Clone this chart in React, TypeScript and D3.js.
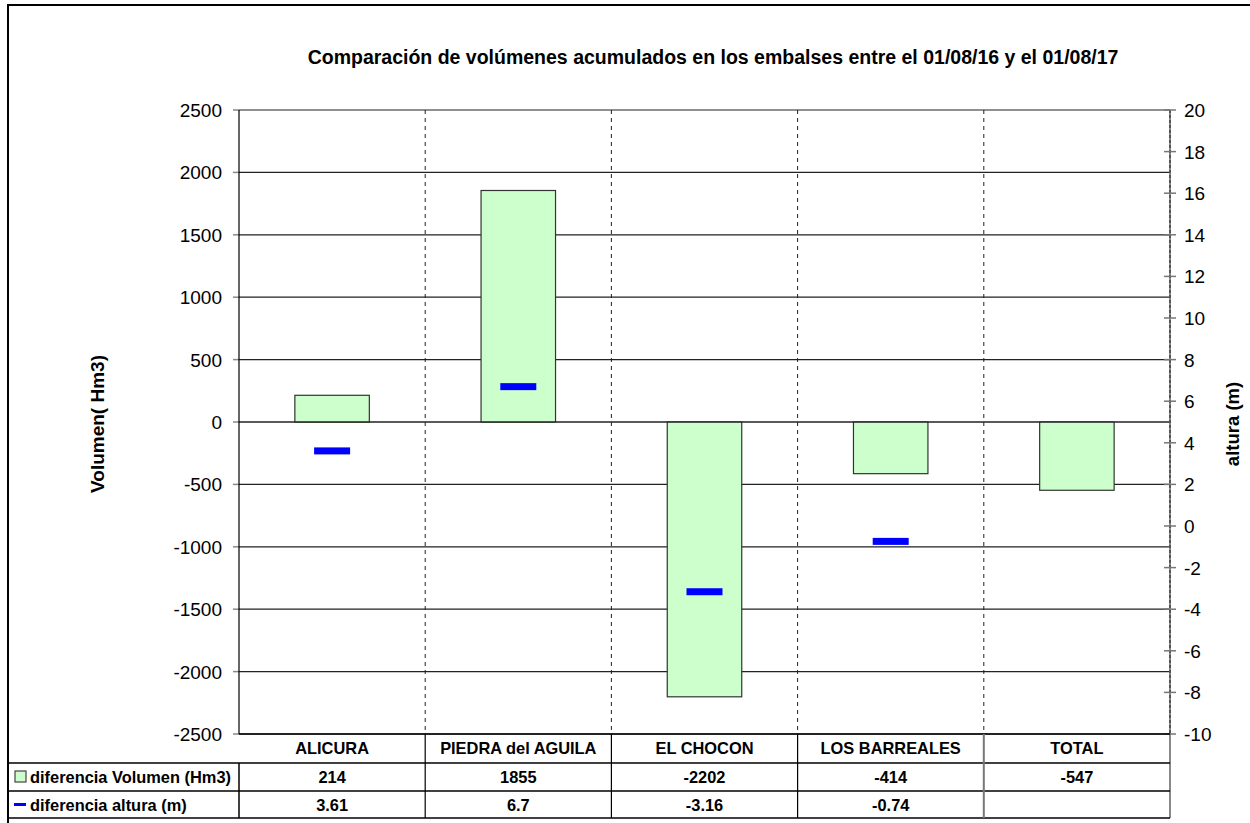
import React from "react";
import * as d3 from "d3";

const categories = ["ALICURA", "PIEDRA del AGUILA", "EL CHOCON", "LOS BARREALES", "TOTAL"];
const volumen = [214, 1855, -2202, -414, -547];
const altura: (number | null)[] = [3.61, 6.7, -3.16, -0.74, null];
const volumenTicks = [2500, 2000, 1500, 1000, 500, 0, -500, -1000, -1500, -2000, -2500];
const alturaTicks = [20, 18, 16, 14, 12, 10, 8, 6, 4, 2, 0, -2, -4, -6, -8, -10];
const volumenLabel = "diferencia Volumen (Hm3)";
const alturaLabel = "diferencia altura (m)";
const title = "Comparación de volúmenes acumulados en los embalses entre el 01/08/16 y el 01/08/17";

const W = 1250;
const H = 823;
const left = 239;
const right = 1170;
const top = 110;
const bottom = 734;
const rowHeader = 763;
const row1 = 791;
const row2 = 818;

export default function App() {
  const x = d3.scaleBand<string>().domain(categories).range([left, right]).paddingInner(0).paddingOuter(0);
  const yL = d3.scaleLinear().domain([-2500, 2500]).range([bottom, top]);
  const yR = d3.scaleLinear().domain([-10, 20]).range([bottom, top]);
  const bw = x.bandwidth();
  const barW = bw * 0.4;
  const markW = 36;
  const font = "Arial, 'Liberation Sans', Helvetica, sans-serif";
  const dividers = categories.slice(1).map((c) => x(c)!);
  const tickFs = 19;
  const tableFs = 16.4;

  return (
    <svg width={W} height={H} style={{ position: "absolute", left: 0, top: 0, background: "#fff" }} fontFamily={font}>
      <rect x={8} y={5} width={1300} height={900} fill="#fff" stroke="#000" strokeWidth={2} />
      <text x={713} y={64} textAnchor="middle" fontSize={19.5} fontWeight="bold">{title}</text>

      {/* horizontal gridlines and left ticks */}
      {volumenTicks.map((t) => (
        <g key={t}>
          <line x1={left} x2={right} y1={yL(t)} y2={yL(t)} stroke="#222" strokeWidth={1.2} />
          <line x1={left - 6} x2={left} y1={yL(t)} y2={yL(t)} stroke="#888" strokeWidth={1.5} />
          <text x={222} y={yL(t) + 7} textAnchor="end" fontSize={tickFs}>{t}</text>
        </g>
      ))}

      {/* category dividers */}
      {dividers.map((d, i) => (
        <line key={i} x1={d} x2={d} y1={top} y2={bottom} stroke="#222" strokeWidth={1} strokeDasharray="4,4" />
      ))}

      {/* bars */}
      {categories.map((c, i) => {
        const v = volumen[i];
        const cx = x(c)! + bw / 2;
        return (
          <rect key={c} x={cx - barW / 2} y={Math.min(yL(v), yL(0))} width={barW}
            height={Math.abs(yL(v) - yL(0))} fill="#ccffcc" stroke="#333" strokeWidth={1.2} />
        );
      })}

      {/* zero line over bars */}
      <line x1={left} x2={right} y1={yL(0)} y2={yL(0)} stroke="#222" strokeWidth={1.2} />

      {/* altura markers */}
      {categories.map((c, i) => {
        const a = altura[i];
        if (a === null) return null;
        const cx = x(c)! + bw / 2;
        return <rect key={c} x={cx - markW / 2} y={yR(a) - 3.5} width={markW} height={7} fill="#0000ff" />;
      })}

      {/* left axis */}
      <line x1={left} x2={left} y1={top} y2={bottom} stroke="#000" strokeWidth={1.2} />

      {/* right axis */}
      <line x1={right} x2={right} y1={top} y2={row2} stroke="#888" strokeWidth={2} />
      <line x1={right} x2={right} y1={top} y2={bottom} stroke="#333" strokeWidth={1.2} strokeDasharray="3,2" />
      {alturaTicks.map((t) => (
        <g key={t}>
          <line x1={right - 6} x2={right + 6} y1={yR(t)} y2={yR(t)} stroke="#777" strokeWidth={1.5} />
          <text x={1184} y={yR(t) + 7} textAnchor="start" fontSize={tickFs}>{t}</text>
        </g>
      ))}

      {/* axis titles */}
      <text transform={`translate(104,424) rotate(-90)`} textAnchor="middle" fontSize={19} fontWeight="bold">Volumen( Hm3)</text>
      <text transform={`translate(1239,424) rotate(-90)`} textAnchor="middle" fontSize={18.5} fontWeight="bold">altura (m)</text>

      {/* data table */}
      <line x1={left} x2={right} y1={bottom} y2={bottom} stroke="#000" strokeWidth={1.5} />
      {[rowHeader, row1, row2].map((y) => (
        <line key={y} x1={8} x2={right} y1={y} y2={y} stroke="#000" strokeWidth={1.5} />
      ))}
      <line x1={left} x2={left} y1={rowHeader} y2={row2} stroke="#000" strokeWidth={1.5} />
      {dividers.map((d, i) => (
        <line key={i} x1={d} x2={d} y1={bottom} y2={row2}
          stroke={i === dividers.length - 1 ? "#777" : "#000"} strokeWidth={i === dividers.length - 1 ? 2 : 1.2} />
      ))}
      {categories.map((c, i) => {
        const cx = x(c)! + bw / 2;
        const a = altura[i];
        return (
          <g key={c} fontSize={tableFs} fontWeight="bold" textAnchor="middle">
            <text x={cx} y={754}>{c}</text>
            <text x={cx} y={783}>{volumen[i]}</text>
            {a !== null && <text x={cx} y={811}>{a}</text>}
          </g>
        );
      })}
      <rect x={15} y={771} width={11} height={11} fill="#ccffcc" stroke="#444" strokeWidth={1.2} />
      <text x={30} y={783} fontSize={tableFs} fontWeight="bold">{volumenLabel}</text>
      <rect x={14} y={803} width={12} height={3} fill="#0000ff" />
      <text x={30} y={811} fontSize={tableFs} fontWeight="bold">{alturaLabel}</text>
    </svg>
  );
}
